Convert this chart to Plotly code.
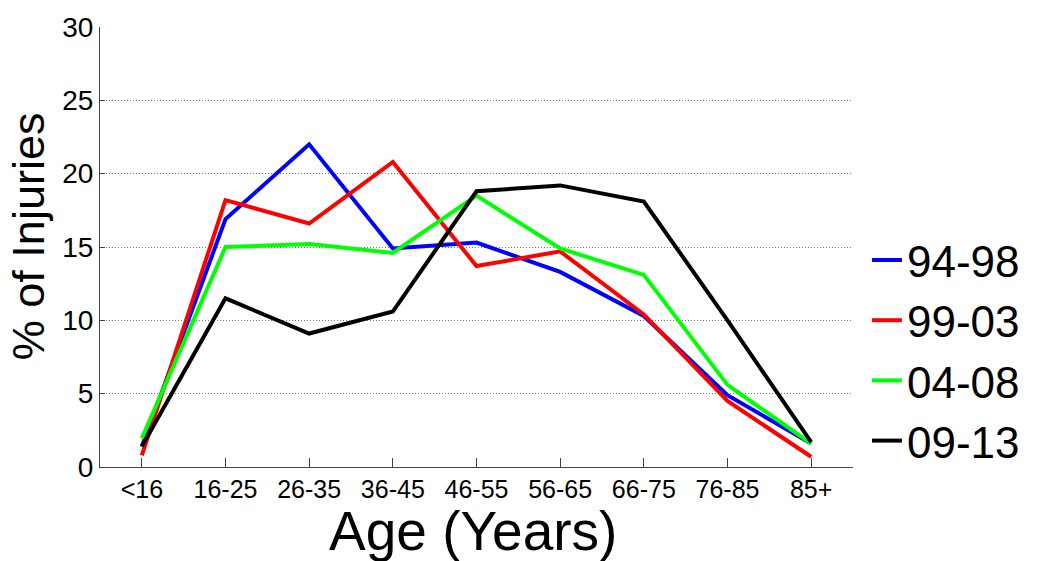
import plotly.graph_objects as go

# Age groups on the x axis
age_groups = ["<16", "16-25", "26-35", "36-45", "46-55", "56-65", "66-75", "76-85", "85+"]

# Percentage of injuries per age group, one series per period
pct_94_98 = [1.4, 16.9, 22.0, 14.9, 15.3, 13.3, 10.3, 4.9, 1.6]
pct_99_03 = [0.8, 18.2, 16.6, 20.8, 13.7, 14.7, 10.4, 4.5, 0.7]
pct_04_08 = [1.95, 15.0, 15.2, 14.6, 18.5, 14.9, 13.1, 5.6, 1.6]
pct_09_13 = [1.4, 11.5, 9.1, 10.6, 18.8, 19.2, 18.1, 10.0, 1.7]

series_names = ["94-98", "99-03", "04-08", "09-13"]
series_values = [pct_94_98, pct_99_03, pct_04_08, pct_09_13]
series_colors = ["#0000ff", "#ff0000", "#00ff00", "#000000"]

y_ticks = [0, 5, 10, 15, 20, 25, 30]

FONT = "Liberation Sans, Arial, sans-serif"

fig = go.Figure()
for name, vals, col in zip(series_names, series_values, series_colors):
    fig.add_trace(go.Scatter(
        x=age_groups, y=vals, name=name, mode="lines",
        line=dict(color=col, width=4),
    ))

W, H = 1037, 561
L, R, T, B = 100, 182, 27, 94

fig.update_layout(
    width=W, height=H,
    margin=dict(l=L, r=R, t=T, b=B, pad=0),
    paper_bgcolor="white", plot_bgcolor="white",
    font=dict(family=FONT, color="black"),
    showlegend=True,
    legend=dict(
        x=(869 - L) / (W - L - R), xanchor="left",
        y=0.265, yanchor="middle",
        font=dict(size=44, color="black"),
        itemwidth=30, bgcolor="rgba(0,0,0,0)", borderwidth=0,
    ),
    xaxis=dict(
        type="category", range=[-0.5, 8.5],
        showgrid=False, showline=True, linecolor="#444", linewidth=1,
        ticks="inside", ticklen=9, tickcolor="#444",
        tickfont=dict(size=25, color="black"),
        zeroline=False, fixedrange=True,
    ),
    yaxis=dict(
        range=[0, 30], tickvals=y_ticks,
        showgrid=True, gridcolor="#777", griddash="1px,2px", gridwidth=1,
        showline=True, linecolor="#444", linewidth=1,
        ticks="inside", ticklen=5, tickcolor="#444",
        tickfont=dict(size=28, color="black"),
        zeroline=False, fixedrange=True,
    ),
    annotations=[
        dict(text="Age (Years)", xref="paper", yref="paper",
             x=(474 - L) / (W - L - R), y=-(531 - (H - B)) / (H - T - B),
             xanchor="center", yanchor="middle", showarrow=False,
             font=dict(size=55, color="black")),
        dict(text="% of Injuries", xref="paper", yref="paper",
             x=-(L - 28) / (W - L - R), y=(H - B - 236) / (H - T - B),
             xanchor="center", yanchor="middle", showarrow=False,
             textangle=-90, font=dict(size=45, color="black")),
    ],
)

fig.write_html("out.html")
